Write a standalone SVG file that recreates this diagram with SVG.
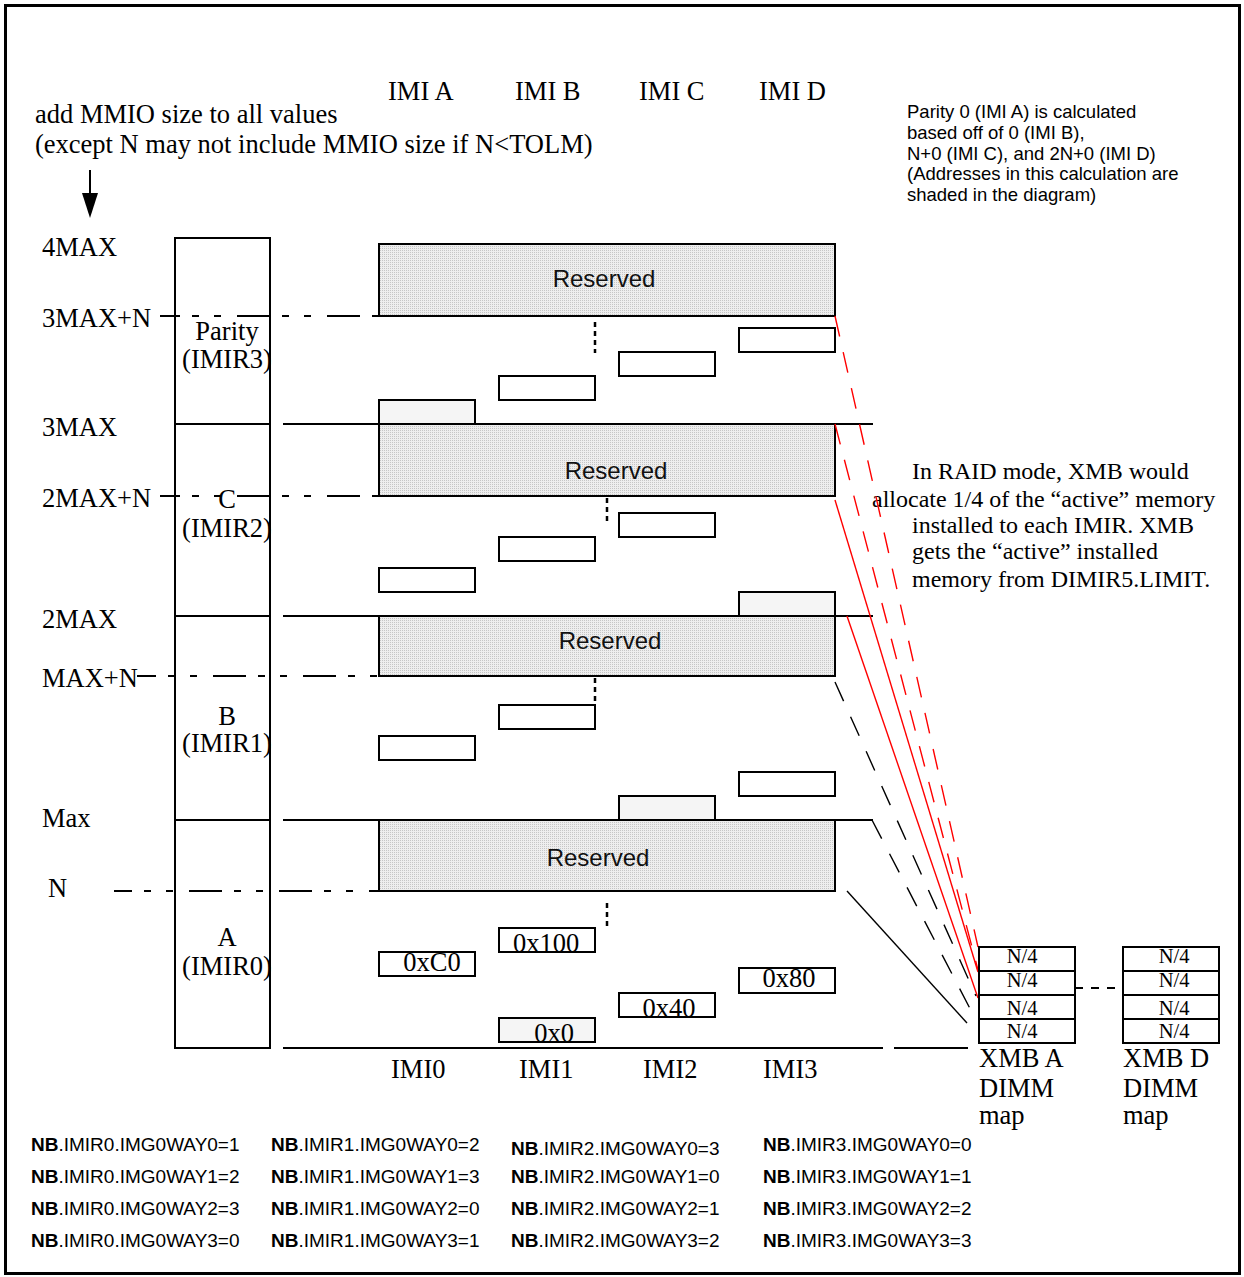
<svg xmlns="http://www.w3.org/2000/svg" width="1244" height="1277" viewBox="0 0 1244 1277">
<style>
.serif{font-family:"Liberation Serif","Times New Roman",serif;font-size:26.5px;fill:#000}
.nq{font-family:"Liberation Serif","Times New Roman",serif;font-size:20.5px;fill:#000;text-anchor:middle}
.sans{font-family:"Liberation Sans",Arial,sans-serif;fill:#000}
.res{font-family:"Liberation Sans",Arial,sans-serif;font-size:24px;text-anchor:middle;fill:#111}
.tbl{font-family:"Liberation Sans",Arial,sans-serif;font-size:19px;fill:#000}
.box{fill:#fff;stroke:#000;stroke-width:2}
.shade{fill:#f5f5f5;stroke:#000;stroke-width:2}
.resbox{fill:url(#stip);stroke:#000;stroke-width:2}
.hl{stroke:#000;stroke-width:2;fill:none}
.dd{stroke:#000;stroke-width:2;fill:none;stroke-dasharray:33 12 7 15 7 16}
.vdot{stroke:#000;stroke-width:2.5;stroke-dasharray:5 4;fill:none}
.red{stroke:#ff0000;stroke-width:1.4;fill:none}
.redd{stroke:#ff0000;stroke-width:1.4;fill:none;stroke-dasharray:21 16}
.blkd{stroke:#000;stroke-width:1.4;fill:none;stroke-dasharray:21 17}
.blk{stroke:#000;stroke-width:1.4;fill:none}
</style>
<defs>
<pattern id="stip" width="2" height="2" patternUnits="userSpaceOnUse">
<rect width="2" height="2" fill="#eeeeee"/>
<rect width="1" height="1" fill="#c6c6c6"/>
</pattern>
</defs>
<rect x="0" y="0" width="1244" height="1277" fill="#fff"/>
<rect x="5.5" y="5.5" width="1234" height="1268" fill="none" stroke="#000" stroke-width="3"/>

<g id="header">
<text class="serif" x="388" y="100">IMI A</text>
<text class="serif" x="515" y="100">IMI B</text>
<text class="serif" x="639" y="100">IMI C</text>
<text class="serif" x="759" y="100">IMI D</text>
<text class="serif" x="35" y="123">add MMIO size to all values</text>
<text class="serif" x="35" y="153">(except N may not include MMIO size if N&lt;TOLM)</text>
<line x1="90" y1="170" x2="90" y2="196" stroke="#000" stroke-width="2"/>
<polygon points="82,193 98,193 90,218" fill="#000"/>
</g>

<g id="note-parity" class="sans" font-size="18.5">
<text x="907" y="118">Parity 0 (IMI A) is calculated</text>
<text x="907" y="139">based off of 0 (IMI B),</text>
<text x="907" y="160">N+0 (IMI C), and 2N+0 (IMI D)</text>
<text x="907" y="180">(Addresses in this calculation are</text>
<text x="907" y="201">shaded in the diagram)</text>
</g>

<g id="note-raid" class="serif" style="font-size:24px">
<text x="912" y="479">In RAID mode, XMB would</text>
<text x="872" y="507">allocate 1/4 of the “active” memory</text>
<text x="912" y="533">installed to each IMIR. XMB</text>
<text x="912" y="559">gets the “active” installed</text>
<text x="912" y="587">memory from DIMIR5.LIMIT.</text>
</g>

<g id="axis-labels">
<text class="serif" x="42" y="256">4MAX</text>
<text class="serif" x="42" y="327">3MAX+N</text>
<text class="serif" x="42" y="436">3MAX</text>
<text class="serif" x="42" y="507">2MAX+N</text>
<text class="serif" x="42" y="628">2MAX</text>
<text class="serif" x="42" y="687">MAX+N</text>
<text class="serif" x="42" y="827">Max</text>
<text class="serif" x="48" y="897">N</text>
</g>

<g id="guides">
<line class="hl" x1="283" y1="424" x2="873" y2="424"/>
<line class="hl" x1="283" y1="616" x2="873" y2="616"/>
<line class="hl" x1="283" y1="820" x2="873" y2="820"/>
<line class="hl" x1="283" y1="1048" x2="883" y2="1048"/>
<line class="hl" x1="894" y1="1048" x2="968" y2="1048"/>
<line class="dd" x1="160" y1="316" x2="379" y2="316" stroke-dashoffset="13"/>
<line class="dd" x1="160" y1="496" x2="379" y2="496" stroke-dashoffset="13"/>
<line class="dd" x1="137" y1="676" x2="379" y2="676" stroke-dashoffset="14"/>
<line class="dd" x1="114" y1="891" x2="379" y2="891" stroke-dashoffset="15"/>
</g>

<g id="imir-column">
<rect x="175" y="238" width="95" height="810" fill="none" stroke="#000" stroke-width="2"/>
<line class="hl" x1="175" y1="424" x2="270" y2="424"/>
<line class="hl" x1="175" y1="616" x2="270" y2="616"/>
<line class="hl" x1="175" y1="820" x2="270" y2="820"/>
<text class="serif" x="227" y="340" text-anchor="middle">Parity</text>
<text class="serif" x="227" y="368" text-anchor="middle">(IMIR3)</text>
<text class="serif" x="227" y="508" text-anchor="middle">C</text>
<text class="serif" x="227" y="537" text-anchor="middle">(IMIR2)</text>
<text class="serif" x="227" y="725" text-anchor="middle">B</text>
<text class="serif" x="227" y="752" text-anchor="middle">(IMIR1)</text>
<text class="serif" x="227" y="946" text-anchor="middle">A</text>
<text class="serif" x="227" y="975" text-anchor="middle">(IMIR0)</text>
</g>

<g id="reserved-3">
<rect class="resbox" x="379" y="244" width="456" height="72"/>
<text class="res" x="604" y="287">Reserved</text>
</g>
<g id="reserved-2">
<rect class="resbox" x="379" y="424" width="456" height="72"/>
<text class="res" x="616" y="479">Reserved</text>
</g>
<g id="reserved-1">
<rect class="resbox" x="379" y="616" width="456" height="60"/>
<text class="res" x="610" y="649">Reserved</text>
</g>
<g id="reserved-0">
<rect class="resbox" x="379" y="820" width="456" height="71"/>
<text class="res" x="598" y="866">Reserved</text>
</g>

<g id="imir3-blocks">
<rect class="shade" x="379" y="400" width="96" height="24"/>
<rect class="box" x="499" y="376" width="96" height="24"/>
<rect class="box" x="619" y="352" width="96" height="24"/>
<rect class="box" x="739" y="328" width="96" height="24"/>
<line class="vdot" x1="595" y1="322" x2="595" y2="353"/>
</g>
<g id="imir2-blocks">
<rect class="box" x="379" y="568" width="96" height="24"/>
<rect class="box" x="499" y="537" width="96" height="24"/>
<rect class="box" x="619" y="513" width="96" height="24"/>
<rect class="shade" x="739" y="592" width="96" height="24"/>
<line class="vdot" x1="607" y1="498" x2="607" y2="521"/>
</g>
<g id="imir1-blocks">
<rect class="box" x="379" y="736" width="96" height="24"/>
<rect class="box" x="499" y="705" width="96" height="24"/>
<rect class="shade" x="619" y="796" width="96" height="24"/>
<rect class="box" x="739" y="772" width="96" height="24"/>
<line class="vdot" x1="595" y1="678" x2="595" y2="701"/>
</g>
<g id="imir0-blocks">
<rect class="box" x="379" y="952" width="96" height="24"/>
<text class="serif" x="432" y="971" text-anchor="middle">0xC0</text>
<rect class="box" x="499" y="928" width="96" height="24"/>
<text class="serif" x="546" y="952" text-anchor="middle">0x100</text>
<rect class="box" x="619" y="993" width="96" height="24"/>
<text class="serif" x="669" y="1017" text-anchor="middle">0x40</text>
<rect class="box" x="739" y="968" width="96" height="25"/>
<text class="serif" x="789" y="987" text-anchor="middle">0x80</text>
<rect class="shade" x="499" y="1018" width="96" height="24"/>
<text class="serif" x="554" y="1042" text-anchor="middle">0x0</text>
<line class="vdot" x1="607" y1="903" x2="607" y2="929"/>
</g>

<g id="footer-labels">
<text class="serif" x="391" y="1078">IMI0</text>
<text class="serif" x="519" y="1078">IMI1</text>
<text class="serif" x="643" y="1078">IMI2</text>
<text class="serif" x="763" y="1078">IMI3</text>
</g>

<g id="connectors">
<line class="redd" x1="835" y1="316" x2="978" y2="947"/>
<line class="redd" x1="835" y1="424" x2="978" y2="970"/>
<line class="red" x1="835" y1="500" x2="978" y2="972"/>
<line class="red" x1="847" y1="616" x2="978" y2="998"/>
<line class="blkd" x1="835" y1="682" x2="976" y2="996"/>
<line class="blkd" x1="872" y1="820" x2="977" y2="1022"/>
<line class="blk" x1="847" y1="891" x2="967" y2="1023"/>
<line stroke="#000" stroke-width="2" stroke-dasharray="8 8" x1="1075" y1="988" x2="1123" y2="988"/>
</g>

<g id="xmb-a">
<rect x="979" y="947" width="96" height="96" fill="#fff" stroke="#000" stroke-width="2"/>
<line class="hl" x1="979" y1="971" x2="1075" y2="971"/>
<line class="hl" x1="979" y1="995" x2="1075" y2="995"/>
<line class="hl" x1="979" y1="1019" x2="1075" y2="1019"/>
<text class="nq" x="1022" y="963">N/4</text>
<text class="nq" x="1022" y="987">N/4</text>
<text class="nq" x="1022" y="1015">N/4</text>
<text class="nq" x="1022" y="1038">N/4</text>
<text class="serif" x="979" y="1067">XMB A</text>
<text class="serif" x="979" y="1097">DIMM</text>
<text class="serif" x="979" y="1124">map</text>
</g>
<g id="xmb-d">
<rect x="1123" y="947" width="96" height="96" fill="#fff" stroke="#000" stroke-width="2"/>
<line class="hl" x1="1123" y1="971" x2="1219" y2="971"/>
<line class="hl" x1="1123" y1="995" x2="1219" y2="995"/>
<line class="hl" x1="1123" y1="1019" x2="1219" y2="1019"/>
<text class="nq" x="1174" y="963">N/4</text>
<text class="nq" x="1174" y="987">N/4</text>
<text class="nq" x="1174" y="1015">N/4</text>
<text class="nq" x="1174" y="1038">N/4</text>
<text class="serif" x="1123" y="1067">XMB D</text>
<text class="serif" x="1123" y="1097">DIMM</text>
<text class="serif" x="1123" y="1124">map</text>
</g>

<g id="register-table" class="tbl">
<text x="31" y="1151"><tspan font-weight="bold">NB</tspan>.IMIR0.IMG0WAY0=1</text>
<text x="31" y="1183"><tspan font-weight="bold">NB</tspan>.IMIR0.IMG0WAY1=2</text>
<text x="31" y="1215"><tspan font-weight="bold">NB</tspan>.IMIR0.IMG0WAY2=3</text>
<text x="31" y="1247"><tspan font-weight="bold">NB</tspan>.IMIR0.IMG0WAY3=0</text>
<text x="271" y="1151"><tspan font-weight="bold">NB</tspan>.IMIR1.IMG0WAY0=2</text>
<text x="271" y="1183"><tspan font-weight="bold">NB</tspan>.IMIR1.IMG0WAY1=3</text>
<text x="271" y="1215"><tspan font-weight="bold">NB</tspan>.IMIR1.IMG0WAY2=0</text>
<text x="271" y="1247"><tspan font-weight="bold">NB</tspan>.IMIR1.IMG0WAY3=1</text>
<text x="511" y="1155"><tspan font-weight="bold">NB</tspan>.IMIR2.IMG0WAY0=3</text>
<text x="511" y="1183"><tspan font-weight="bold">NB</tspan>.IMIR2.IMG0WAY1=0</text>
<text x="511" y="1215"><tspan font-weight="bold">NB</tspan>.IMIR2.IMG0WAY2=1</text>
<text x="511" y="1247"><tspan font-weight="bold">NB</tspan>.IMIR2.IMG0WAY3=2</text>
<text x="763" y="1151"><tspan font-weight="bold">NB</tspan>.IMIR3.IMG0WAY0=0</text>
<text x="763" y="1183"><tspan font-weight="bold">NB</tspan>.IMIR3.IMG0WAY1=1</text>
<text x="763" y="1215"><tspan font-weight="bold">NB</tspan>.IMIR3.IMG0WAY2=2</text>
<text x="763" y="1247"><tspan font-weight="bold">NB</tspan>.IMIR3.IMG0WAY3=3</text>
</g>
</svg>
